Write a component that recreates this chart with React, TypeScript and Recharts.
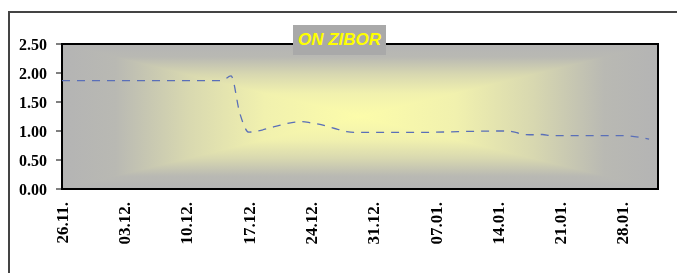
import React from "react";
import { LineChart, Line, XAxis, YAxis, ReferenceArea } from "recharts";

// Days counted from 26.11.
const dayOffsets = [0, 18, 19, 20, 21, 22, 24, 26, 27, 28, 29, 30, 31, 32, 33, 40, 42, 49, 50, 51, 52, 53, 54, 55, 63, 65, 66];
const rates = [1.87, 1.87, 1.95, 1.3, 0.98, 1.0, 1.08, 1.15, 1.16, 1.14, 1.115, 1.07, 1.03, 0.99, 0.975, 0.975, 0.98, 1.0, 1.0, 0.975, 0.94, 0.935, 0.94, 0.92, 0.92, 0.89, 0.86];

const tickDays = [0, 7, 14, 21, 28, 35, 42, 49, 56, 63];
const tickLabels = ["26.11.", "03.12.", "10.12.", "17.12.", "24.12.", "31.12.", "07.01.", "14.01.", "21.01.", "28.01."];
const yTicks = [0, 0.5, 1, 1.5, 2, 2.5];

const title = "ON ZIBOR";

const data = dayOffsets.map((d, i) => ({ day: d, rate: rates[i] }));

const SERIF = "'Liberation Serif', 'Times New Roman', serif";

const stops = [
  { o: 0, c: "#b4b4b4" },
  { o: 0.18, c: "#b9b9b3" },
  { o: 0.42, c: "#d8d8b0" },
  { o: 0.68, c: "#f1f1ae" },
  { o: 1, c: "#fcfcaa" },
];

const PlotBackground = (props: any) => {
  const { x, y, width, height } = props;
  const cx = x + width / 2;
  const cy = y + height / 2;
  const grad = (id: string, x1: number, y1: number, x2: number, y2: number) => (
    <linearGradient id={id} gradientUnits="userSpaceOnUse" x1={x1} y1={y1} x2={x2} y2={y2} spreadMethod="reflect">
      {stops.map((s) => (
        <stop key={s.o} offset={s.o} stopColor={s.c} />
      ))}
    </linearGradient>
  );
  return (
    <g>
      <defs>
        {grad("gH", x, cy, cx, cy)}
        {grad("gV", cx, y, cx, cy)}
      </defs>
      <rect x={x} y={y} width={width} height={height} fill="url(#gH)" />
      <polygon points={`${x},${y} ${x + width},${y} ${cx},${cy}`} fill="url(#gV)" />
      <polygon points={`${x},${y + height} ${x + width},${y + height} ${cx},${cy}`} fill="url(#gV)" />
      <rect x={x} y={y} width={width} height={height} fill="none" stroke="#000" strokeWidth={2} />
    </g>
  );
};

const DateTick = (props: any) => {
  const { x, y, payload } = props;
  const idx = tickDays.indexOf(payload.value);
  const label = idx >= 0 ? tickLabels[idx] : "";
  return (
    <g transform={`translate(${x},${y + 13})`}>
      <text
        transform="rotate(-90)"
        textAnchor="end"
        dy="0.35em"
        fill="#000"
        fontFamily={SERIF}
        fontWeight="bold"
        fontSize={17}
      >
        {label}
      </text>
    </g>
  );
};

export default function App() {
  return (
    <div style={{ position: "relative", width: 661, height: 257 }}>
      <div
        style={{
          position: "fixed",
          left: 8,
          top: 11,
          width: 720,
          height: 320,
          borderTop: "2px solid #444",
          borderLeft: "2px solid #444",
        }}
      />
      <div style={{ position: "absolute", left: 0, top: 0 }}>
        <LineChart width={661} height={257} data={data} margin={{ top: 36, right: 11, bottom: 16, left: 0 }}>
          <XAxis
            dataKey="day"
            type="number"
            domain={[0, 67]}
            ticks={tickDays}
            interval={0}
            tick={<DateTick />}
            tickLine={false}
            axisLine={false}
            tickSize={0}
            tickMargin={0}
            height={60}
          />
          <YAxis
            type="number"
            domain={[0, 2.5]}
            ticks={yTicks}
            interval={0}
            width={54}
            axisLine={false}
            tickLine={{ stroke: "#000", strokeWidth: 1 }}
            tickSize={6}
            tickMargin={9}
            tickFormatter={(v: number) => v.toFixed(2)}
            tick={{ fill: "#000", fontFamily: SERIF, fontWeight: "bold", fontSize: 16 }}
          />
          <ReferenceArea x1={0} x2={67} y1={0} y2={2.5} shape={<PlotBackground />} ifOverflow="visible" />
          <Line
            type="monotone"
            dataKey="rate"
            stroke="#5a6fb8"
            strokeWidth={1.3}
            strokeDasharray="8 7"
            dot={false}
            activeDot={false}
            isAnimationActive={false}
          />
        </LineChart>
      </div>
      <div
        style={{
          position: "absolute",
          left: 285,
          top: 17,
          width: 93,
          height: 30,
          background: "#a9a9a9",
          display: "flex",
          alignItems: "center",
          justifyContent: "center",
          color: "#ffff00",
          fontFamily: "'Liberation Sans', Arial, sans-serif",
          fontWeight: "bold",
          fontStyle: "italic",
          fontSize: 17,
          whiteSpace: "nowrap",
        }}
      >
        {title}
      </div>
    </div>
  );
}
